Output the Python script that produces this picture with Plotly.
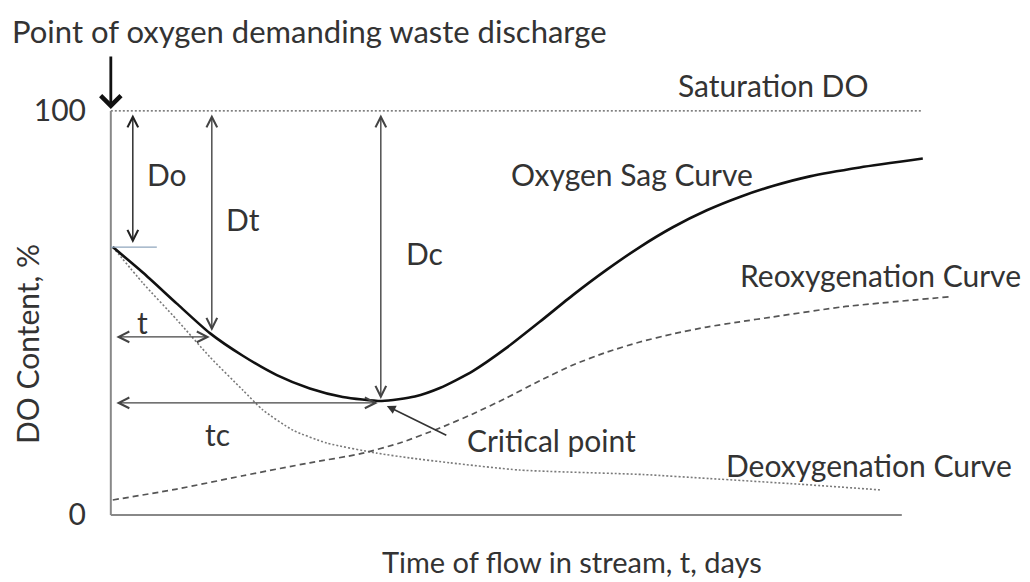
import plotly.graph_objects as go

# ---------------- data (x: time units 0-100, y: DO %) ----------------
sag_x = [0.25, 4.05, 8.35, 12.52, 16.69, 20.99, 25.16, 29.33, 34.27, 38.44, 41.60,
         45.77, 50.07, 54.24, 58.42, 62.72, 66.89, 71.06, 75.36, 79.53, 83.70,
         88.38, 94.71, 102.67]
sag_y = [66.3, 60.0, 52.3, 45.0, 39.4, 34.6, 31.3, 29.2, 28.2, 29.3, 31.4,
         35.6, 41.4, 47.8, 54.4, 60.7, 66.3, 71.2, 75.4, 78.7, 81.4,
         83.8, 86.0, 88.2]

deox_x = [0.25, 4.05, 8.35, 12.52, 16.69, 19.22, 23.01, 27.31, 33.63, 37.81,
          42.87, 51.72, 67.27, 75.74, 87.12, 97.24]
deox_y = [66.3, 57.4, 48.3, 39.1, 30.9, 26.0, 21.0, 17.8, 15.3, 14.1,
          12.9, 11.1, 10.0, 9.0, 7.6, 6.2]

reox_x = [0.25, 8.35, 16.69, 25.16, 31.48, 36.54, 41.60, 45.77, 50.07, 54.24,
          58.42, 62.72, 66.89, 71.06, 75.36, 79.53, 83.70, 92.55, 106.08]
reox_y = [3.7, 6.4, 9.7, 12.9, 15.1, 17.8, 21.5, 25.0, 29.0, 33.2,
          37.1, 40.3, 42.8, 44.8, 46.5, 47.8, 49.0, 51.5, 54.0]

sat_x = [0, 102.5]
sat_y = [100, 100]

y_tick_vals = [0, 100]
y_tick_text = ["0", "100"]

# ---------------- pixel helpers (layout only) ----------------
L, R, T, B = 95, 69, 100, 59
W, H = 1030, 582
PW, PH = W - L - R, H - T - B
X0, XS = 111.0, PW / 109.5      # px of x=0, px per unit
Y0, YS = 515.0, PH / 104.7      # px of y=0, px per unit


def dx(px):
    return (px - X0) / XS


def dy(py):
    return (Y0 - py) / YS


def paper_x(px):
    return (px - L) / PW


def paper_y(py):
    return (H - B - py) / PH


FONT = "Lato"
TXT = "#333333"
FS = 30

fig = go.Figure()

fig.add_trace(go.Scatter(x=sat_x, y=sat_y, mode="lines",
                         line=dict(color="#555555", width=1.4, dash="2px,2px"),
                         hoverinfo="skip"))
fig.add_trace(go.Scatter(x=deox_x, y=deox_y, mode="lines",
                         line=dict(color="#7a7a7a", width=1.6, dash="2px,2px", shape="spline", smoothing=0.6),
                         hoverinfo="skip"))
fig.add_trace(go.Scatter(x=reox_x, y=reox_y, mode="lines",
                         line=dict(color="#555555", width=1.7, dash="6px,4px", shape="spline", smoothing=0.6),
                         hoverinfo="skip"))
fig.add_trace(go.Scatter(x=sag_x, y=sag_y, mode="lines",
                         line=dict(color="#111111", width=2.6, shape="spline", smoothing=0.6),
                         hoverinfo="skip"))

# axis lines
fig.add_shape(type="line", x0=0, y0=0, x1=dx(902), y1=0, line=dict(color="#888888", width=2))
fig.add_shape(type="line", x0=0, y0=0, x1=0, y1=100, line=dict(color="#888888", width=2))
# small initial-DO tick line
fig.add_shape(type="line", x0=0, y0=sag_y[0], x1=dx(157), y1=sag_y[0],
              line=dict(color="#8fa6bd", width=1.2))

anns = []


def arrow(x, y, ax, ay, both=True, color="#333333", width=1.4, head=5, size=1.5):
    anns.append(dict(x=x, y=y, ax=ax, ay=ay, xref="x", yref="y", axref="x", ayref="y",
                     showarrow=True, arrowhead=head, startarrowhead=head,
                     arrowside="end+start" if both else "end",
                     arrowsize=size, startarrowsize=size,
                     arrowwidth=width, arrowcolor=color, text=""))


# vertical deficits
arrow(dx(133), dy(243), dx(133), dy(113), color="#222222")
arrow(dx(212), dy(331), dx(212), dy(113), color="#444444")
arrow(dx(381), dy(399), dx(381), dy(113), color="#444444")
# horizontal times
arrow(dx(210), dy(337), dx(115), dy(337), color="#444444")
arrow(dx(378), dy(403), dx(115), dy(403), color="#444444")
# critical point pointer
arrow(dx(387), dy(406), dx(448), dy(436), both=False, color="#333333", width=1.6, head=2, size=1.1)
# discharge arrow
anns.append(dict(x=0, y=dy(109), xref="x", yref="y", ax=0, ay=-54, axref="pixel", ayref="pixel",
                 showarrow=True, arrowhead=4, arrowsize=1.4, arrowwidth=2.8,
                 arrowcolor="#111111", text=""))


def label(text, px, py, anchor="center", size=FS, angle=0):
    anns.append(dict(x=paper_x(px), y=paper_y(py), xref="paper", yref="paper", text=text,
                     showarrow=False, xanchor=anchor, yanchor="middle", textangle=angle,
                     font=dict(family=FONT, size=size, color=TXT)))


label("Point of oxygen demanding waste discharge", 10, 31, anchor="left", size=31)
label("Saturation DO", 773, 85)
label("Oxygen Sag Curve", 632, 174)
label("Reoxygenation Curve", 880, 275)
label("Deoxygenation Curve", 869, 465)
label("Critical point", 551, 440)
label("Do", 167, 174)
label("Dt", 243, 219)
label("Dc", 424, 253)
label("t", 142, 322)
label("tc", 217, 434)
label("DO Content, %", 27, 344, angle=-90)
label("Time of flow in stream, t, days", 572, 561, size=29)

fig.update_layout(
    width=W, height=H,
    margin=dict(l=L, r=R, t=T, b=B),
    paper_bgcolor="white", plot_bgcolor="white",
    showlegend=False,
    annotations=anns,
    xaxis=dict(range=[-2, 107.5], showgrid=False, zeroline=False, showline=False,
               showticklabels=False, ticks=""),
    yaxis=dict(range=[-2, 102.7], showgrid=False, zeroline=False, showline=False,
               tickvals=y_tick_vals, ticktext=y_tick_text, ticks="",
               ticklabelstandoff=8,
               tickfont=dict(family=FONT, size=FS, color=TXT)),
)

fig.write_html("out.html", config={"displayModeBar": False},
               post_script="document.body.style.margin='0px';")
